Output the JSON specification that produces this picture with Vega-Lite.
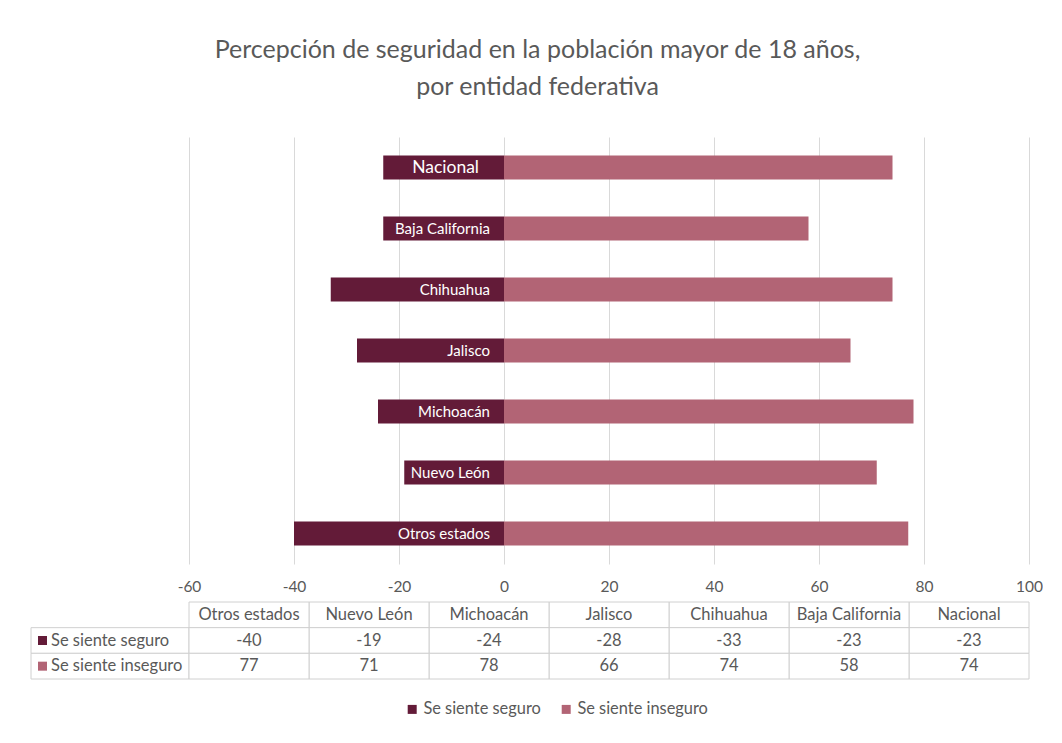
{
  "$schema": "https://vega.github.io/schema/vega-lite/v6.json",
  "background": "white",
  "padding": {"left": 30, "top": 38, "right": 0, "bottom": 0},
  "title": {
    "text": ["Percepción de seguridad en la población mayor de 18 años,", "por entidad federativa"],
    "fontSize": 25,
    "font": "Lato",
    "fontWeight": "normal",
    "color": "#595959",
    "anchor": "middle",
    "lineHeight": 37,
    "offset": 37,
    "dx": 1
  },
  "datasets": {
    "estados": [
      {"Entidad": "Nacional", "Se siente seguro": -23, "Se siente inseguro": 74},
      {"Entidad": "Baja California", "Se siente seguro": -23, "Se siente inseguro": 58},
      {"Entidad": "Chihuahua", "Se siente seguro": -33, "Se siente inseguro": 74},
      {"Entidad": "Jalisco", "Se siente seguro": -28, "Se siente inseguro": 66},
      {"Entidad": "Michoacán", "Se siente seguro": -24, "Se siente inseguro": 78},
      {"Entidad": "Nuevo León", "Se siente seguro": -19, "Se siente inseguro": 71},
      {"Entidad": "Otros estados", "Se siente seguro": -40, "Se siente inseguro": 77}
    ],
    "series": [
      {"serie": "Se siente seguro"},
      {"serie": "Se siente inseguro"}
    ]
  },
  "columns": 2,
  "align": "each",
  "bounds": "flush",
  "spacing": {"row": 38, "column": 0},
  "resolve": {"legend": {"color": "independent"}},
  "concat": [
    {
      "width": 158,
      "height": 427,
      "data": {"values": [{}]},
      "mark": "text",
      "encoding": {"text": {"value": ""}}
    },
    {
      "width": 840,
      "height": 427,
      "data": {"name": "estados"},
      "layer": [
        {
          "transform": [{"fold": ["Se siente seguro", "Se siente inseguro"], "as": ["serie", "valor"]}],
          "mark": {"type": "bar"},
          "encoding": {
            "y": {
              "field": "Entidad", "type": "nominal",
              "scale": {"domain": ["Nacional", "Baja California", "Chihuahua", "Jalisco", "Michoacán", "Nuevo León", "Otros estados"], "paddingInner": 0.607, "paddingOuter": 0.3035},
              "axis": null
            },
            "x": {
              "field": "valor", "type": "quantitative", "stack": null,
              "scale": {"domain": [-60, 100], "nice": false},
              "axis": {
                "values": [-60, -40, -20, 0, 20, 40, 60, 80, 100],
                "labelExpr": "replace(datum.label, '\u2212', '-')",
                "grid": true, "gridColor": "#d9d9d9", "gridWidth": 1,
                "domain": false, "ticks": false,
                "labelFontSize": 15.5, "labelColor": "#595959", "labelFont": "Lato",
                "labelPadding": 15, "labelFlush": false, "labelOverlap": false,
                "title": null
              }
            },
            "color": {
              "field": "serie", "type": "nominal",
              "scale": {"domain": ["Se siente seguro", "Se siente inseguro"], "range": ["#631b38", "#b26475"]},
              "legend": {
                "orient": "none", "legendX": 215, "legendY": 564,
                "direction": "horizontal", "title": null,
                "symbolType": "square", "symbolSize": 81, "symbolStrokeWidth": 0,
                "labelFontSize": 16.4, "labelColor": "#595959", "labelFont": "Lato",
                "columnPadding": 17, "labelOffset": 3
              }
            }
          }
        },
        {
          "transform": [{"filter": "datum.Entidad !== 'Nacional'"}],
          "mark": {"type": "text", "align": "right", "baseline": "middle", "dx": -14, "fontSize": 15, "color": "white", "font": "Lato"},
          "encoding": {
            "y": {"field": "Entidad", "type": "nominal"},
            "x": {"datum": 0, "type": "quantitative"},
            "text": {"field": "Entidad"}
          }
        },
        {
          "transform": [{"filter": "datum.Entidad === 'Nacional'"}],
          "mark": {"type": "text", "align": "right", "baseline": "middle", "dx": -25, "fontSize": 17.5, "color": "white", "font": "Lato"},
          "encoding": {
            "y": {"field": "Entidad", "type": "nominal"},
            "x": {"datum": 0, "type": "quantitative"},
            "text": {"field": "Entidad"}
          }
        }
      ]
    },
    {
      "width": 158,
      "height": 77,
      "data": {"name": "series"},
      "encoding": {
        "y": {
          "field": "serie", "type": "nominal",
          "scale": {"domain": ["Entidad", "Se siente seguro", "Se siente inseguro"], "paddingInner": 0, "paddingOuter": 0},
          "axis": null
        }
      },
      "layer": [
        {
          "mark": {"type": "rect", "fill": "white", "stroke": "#d0d0d0", "strokeWidth": 1}
        },
        {
          "mark": {"type": "point", "shape": "square", "filled": true, "size": 81, "opacity": 1},
          "encoding": {
            "xOffset": {"value": -67.5},
            "color": {
              "field": "serie", "type": "nominal",
              "scale": {"domain": ["Se siente seguro", "Se siente inseguro"], "range": ["#631b38", "#b26475"]},
              "legend": null
            }
          }
        },
        {
          "mark": {"type": "text", "align": "left", "baseline": "middle", "dx": -59, "fontSize": 16.5, "color": "#595959", "font": "Lato"},
          "encoding": {"text": {"field": "serie"}}
        }
      ]
    },
    {
      "width": 840,
      "height": 77,
      "data": {"name": "estados"},
      "transform": [{"fold": ["Entidad", "Se siente seguro", "Se siente inseguro"], "as": ["fila", "valor"]}],
      "encoding": {
        "x": {
          "field": "Entidad", "type": "nominal",
          "scale": {"domain": ["Otros estados", "Nuevo León", "Michoacán", "Jalisco", "Chihuahua", "Baja California", "Nacional"], "paddingInner": 0, "paddingOuter": 0},
          "axis": null
        },
        "y": {
          "field": "fila", "type": "nominal",
          "scale": {"domain": ["Entidad", "Se siente seguro", "Se siente inseguro"], "paddingInner": 0, "paddingOuter": 0},
          "axis": null
        }
      },
      "layer": [
        {
          "mark": {"type": "rect", "fill": "white", "stroke": "#d0d0d0", "strokeWidth": 1}
        },
        {
          "mark": {"type": "text", "align": "center", "baseline": "middle", "fontSize": 16.5, "color": "#595959", "font": "Lato"},
          "encoding": {"text": {"field": "valor", "type": "nominal"}}
        }
      ]
    }
  ],
  "config": {
    "view": {"stroke": null},
    "font": "Lato"
  }
}
